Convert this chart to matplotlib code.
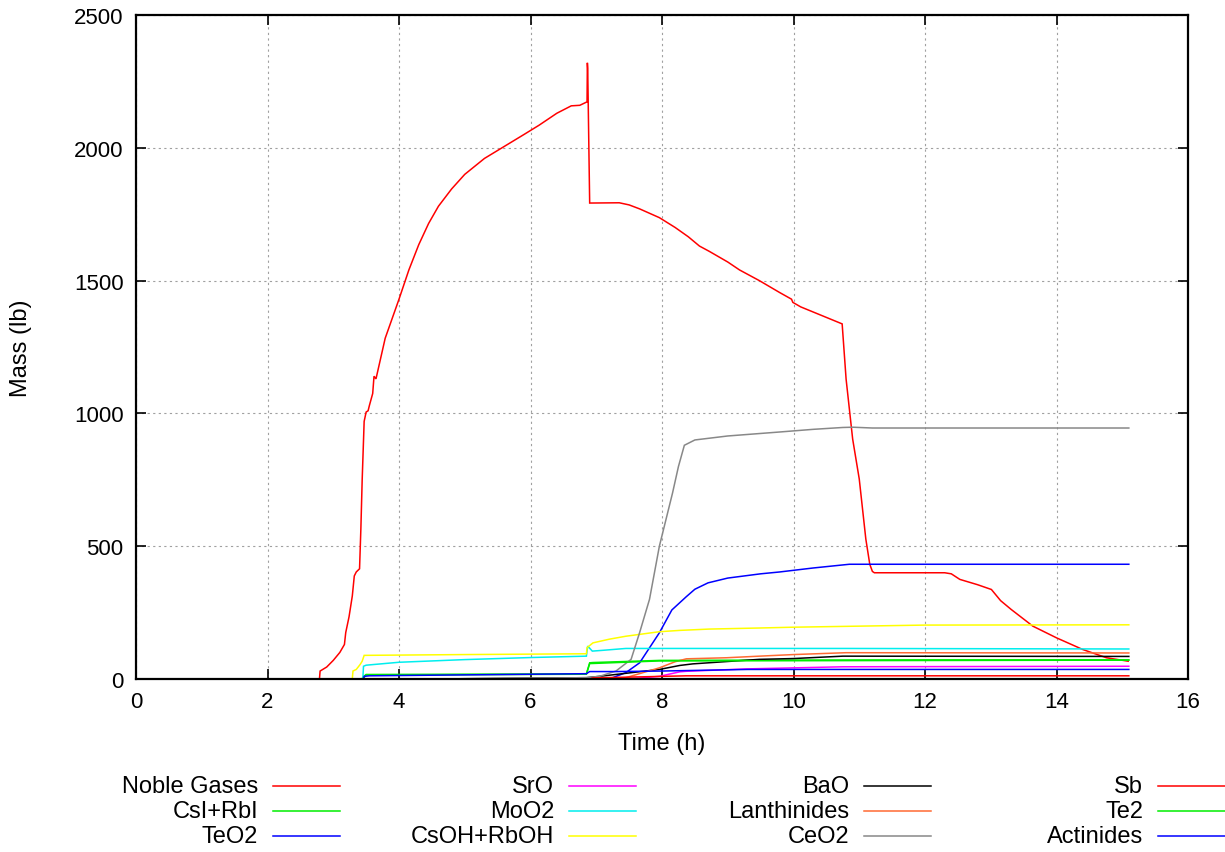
import matplotlib
matplotlib.use("Agg")
import matplotlib.pyplot as plt
from matplotlib.lines import Line2D

plt.rcParams['font.family'] = ['Liberation Sans', 'DejaVu Sans']

# ---- data (time in h, mass in lb) ----
noble_t = [0, 2.79, 2.80, 2.9, 3.0, 3.1, 3.17, 3.19, 3.24, 3.29, 3.32, 3.35, 3.40, 3.41, 3.42, 3.44,
           3.47, 3.50, 3.53, 3.55, 3.60, 3.62, 3.65, 3.79, 3.9, 4.0, 4.15, 4.3, 4.45, 4.6, 4.8, 5.0,
           5.3, 5.6, 5.9, 6.13, 6.4, 6.62, 6.75, 6.86, 6.865, 6.87, 6.9, 7.35, 7.5, 7.66, 7.96, 8.2,
           8.4, 8.57, 8.72, 9.0, 9.18, 9.48, 9.79, 9.97, 9.99, 10.11, 10.74, 10.8, 10.88, 10.9, 11.0,
           11.1, 11.16, 11.2, 11.23, 12.3, 12.4, 12.53, 12.8, 13.01, 13.15, 13.31, 13.64, 14.0, 14.4,
           14.76, 15.09]
noble_v = [0, 0, 30, 45, 70, 100, 130, 175, 234, 313, 388, 403, 415, 490, 565, 750,
           970, 1005, 1010, 1030, 1075, 1140, 1130, 1283, 1360, 1430, 1540, 1635, 1715, 1780, 1845, 1900,
           1960, 2005, 2050, 2085, 2130, 2158, 2160, 2173, 2320, 2300, 1792, 1793, 1785, 1770, 1737, 1700,
           1665, 1630, 1610, 1570, 1540, 1500, 1455, 1430, 1418, 1401, 1337, 1129, 948, 903, 753,
           527, 432, 405, 400, 400, 396, 375, 355, 337, 295, 262, 199, 155, 111,
           80, 67]

csi_t = [0, 3.44, 3.45, 3.5, 6.85, 6.9, 6.95, 7.96, 9.48, 12.0, 15.1]
csi_v = [0, 0, 7, 17, 19, 61, 62, 70, 71, 72, 72]

teo2_t = [0, 7.0, 7.25, 7.45, 7.66, 7.96, 8.15, 8.37, 8.5, 8.7, 9.0, 9.5, 9.79, 10.3, 10.85, 15.1]
teo2_v = [0, 0, 5, 24, 61, 174, 260, 310, 338, 362, 380, 396, 403, 418, 432, 432]

sro_t = [0, 7.5, 7.96, 8.27, 8.37, 9.28, 10.75, 15.1]
sro_v = [0, 0, 10, 27, 29, 38, 46, 48]

moo2_t = [0, 3.45, 3.46, 3.5, 4.0, 5.0, 6.03, 6.85, 6.87, 6.94, 7.1, 7.45, 10.8, 15.1]
moo2_v = [0, 0, 48, 52, 63, 73, 81, 86, 124, 105, 108, 115, 115, 113]

csoh_t = [0, 3.29, 3.30, 3.35, 3.41, 3.44, 3.47, 5.0, 6.85, 6.86, 6.95, 7.2, 7.45, 7.96, 8.27,
          8.72, 9.48, 9.99, 12.0, 15.1]
csoh_v = [0, 0, 30, 36, 55, 67, 89, 92, 95, 118, 136, 150, 161, 178, 183,
          188, 192, 195, 203, 204]

bao_t = [0, 4.5, 6.85, 7.05, 7.96, 8.27, 8.47, 9.48, 10.0, 10.75, 15.1]
bao_v = [0, 0, 5, 10, 36, 51, 57, 74, 77, 86, 85]

lan_t = [0, 7.0, 7.45, 7.96, 8.2, 8.37, 8.98, 9.48, 10.0, 10.8, 15.1]
lan_v = [0, 0, 5, 42, 65, 76, 80, 86, 92, 99, 98]

ceo2_t = [0, 4.5, 6.85, 7.05, 7.3, 7.53, 7.66, 7.81, 7.96, 8.08, 8.16, 8.25, 8.34, 8.5, 9.0,
          9.79, 10.3, 10.75, 10.9, 11.2, 15.1]
ceo2_v = [0, 0, 5, 10, 30, 74, 175, 300, 500, 620, 700, 800, 880, 900, 915,
          930, 940, 947, 948, 945, 945]

sb_t = [0, 6.9, 6.95, 8.37, 15.1]
sb_v = [0, 0, 4, 12, 12]

te2_t = [0, 3.45, 3.5, 6.85, 6.9, 7.96, 15.1]
te2_v = [0, 0, 15, 18, 58, 68, 71]

act_t = [0, 3.46, 3.47, 3.55, 6.85, 6.9, 7.3, 8.0, 9.3, 15.1]
act_v = [0, 0, 10, 12, 20, 28, 28, 30, 36, 36]

labels = ["Noble Gases", "CsI+RbI", "TeO2", "SrO", "MoO2", "CsOH+RbOH",
          "BaO", "Lanthinides", "CeO2", "Sb", "Te2", "Actinides"]
series = [(noble_t, noble_v), (csi_t, csi_v), (teo2_t, teo2_v), (sro_t, sro_v),
          (moo2_t, moo2_v), (csoh_t, csoh_v), (bao_t, bao_v), (lan_t, lan_v),
          (ceo2_t, ceo2_v), (sb_t, sb_v), (te2_t, te2_v), (act_t, act_v)]
colors = ["#ff0000", "#00ee00", "#0000ff", "#ff00ff", "#00eeee", "#ffff00",
          "#000000", "#ff6a33", "#888888", "#ff0000", "#00ee00", "#0000ff"]

x_ticks = [0, 2, 4, 6, 8, 10, 12, 14, 16]
y_ticks = [0, 500, 1000, 1500, 2000, 2500]

W, H = 1225, 853
fig = plt.figure(figsize=(W / 100, H / 100), dpi=100)
ax = fig.add_axes([136 / W, 1 - 680 / H, (1188 - 136) / W, (680 - 16) / H])

for (t, v), c in zip(series, colors):
    ax.plot(t, v, color=c, lw=1.1, solid_joinstyle='miter')

ax.set_xlim(0, 16)
ax.set_ylim(0, 2500)
ax.set_xticks(x_ticks)
ax.set_yticks(y_ticks)
ax.grid(True, color='#a0a0a0', linestyle=(0, (2, 3)), lw=0.8)
ax.tick_params(direction='in', length=7, width=1.2, top=True, right=True,
               labelsize=16, pad=9, colors='black')
for s in ax.spines.values():
    s.set_linewidth(1.6)
ax.set_xlabel("Time (h)", fontsize=17, labelpad=14)
ax.set_ylabel("Mass (lb)", fontsize=17, labelpad=30)

# legend (gnuplot style: text right-aligned, then sample line), column-major
col_right = [258, 554, 849, 1143]
row_y = [787, 812, 837]
for i, (lab, c) in enumerate(zip(labels, colors)):
    col, row = divmod(i, 3)
    xr = col_right[col]
    y = row_y[row]
    fig.text(xr / W, 1 - y / H, lab, ha='right', va='center', fontsize=17)
    fig.add_artist(Line2D([(xr + 15) / W, (xr + 82) / W], [1 - y / H, 1 - y / H],
                          color=c, lw=1.1, transform=fig.transFigure))

fig.savefig("out.png", dpi=100)
